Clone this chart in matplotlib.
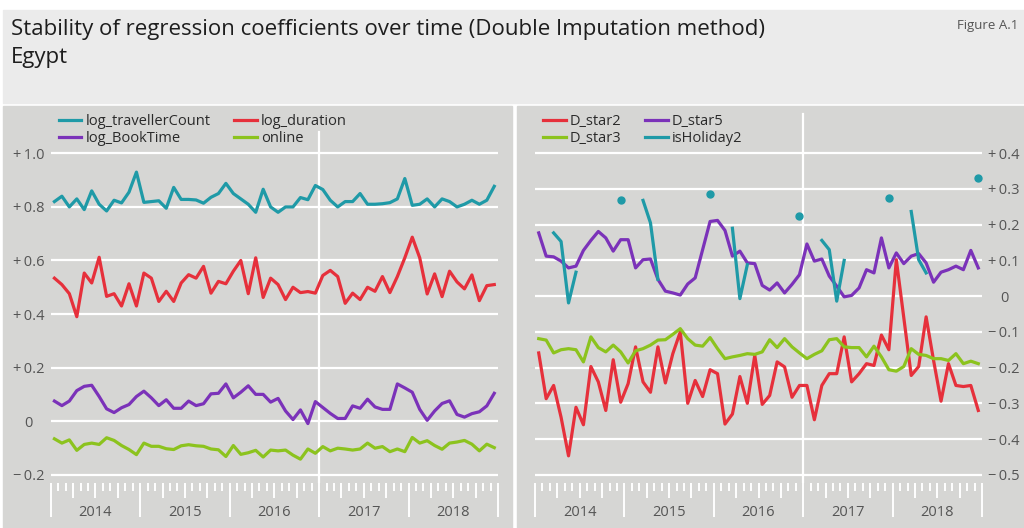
import matplotlib
matplotlib.use("Agg")
import matplotlib.pyplot as plt
import numpy as np
from matplotlib import ticker
from matplotlib.patches import Rectangle
from matplotlib.transforms import blended_transform_factory

nan = np.nan

# mesi: gen 2014 .. dic 2018 (60 punti)
anni = [2014, 2015, 2016, 2017, 2018]

# pannello sinistro
log_travellerCount = [0.82, 0.84, 0.80, 0.83, 0.79, 0.86, 0.81, 0.785, 0.825, 0.815,
                      0.855, 0.93, 0.817, 0.82, 0.823, 0.795, 0.873, 0.828, 0.828, 0.826,
                      0.814, 0.836, 0.85, 0.888, 0.85, 0.83, 0.81, 0.78, 0.866, 0.80,
                      0.78, 0.80, 0.80, 0.835, 0.827, 0.88, 0.865, 0.825, 0.80, 0.82,
                      0.82, 0.85, 0.81, 0.81, 0.812, 0.816, 0.83, 0.906, 0.806, 0.81,
                      0.83, 0.80, 0.83, 0.82, 0.80, 0.81, 0.825, 0.81, 0.825, 0.877]
log_duration = [0.534, 0.51, 0.476, 0.39, 0.553, 0.516, 0.612, 0.466, 0.476, 0.43,
                0.513, 0.43, 0.553, 0.534, 0.447, 0.485, 0.447, 0.516, 0.547, 0.534,
                0.578, 0.478, 0.522, 0.513, 0.56, 0.60, 0.476, 0.61, 0.462, 0.534,
                0.51, 0.454, 0.50, 0.48, 0.484, 0.478, 0.544, 0.563, 0.54, 0.44,
                0.478, 0.454, 0.50, 0.485, 0.54, 0.48, 0.54, 0.61, 0.687, 0.61,
                0.475, 0.55, 0.465, 0.56, 0.52, 0.494, 0.546, 0.45, 0.506, 0.51]
log_BookTime = [0.075, 0.058, 0.075, 0.114, 0.13, 0.134, 0.092, 0.046, 0.032, 0.05,
                0.062, 0.092, 0.112, 0.087, 0.058, 0.08, 0.048, 0.048, 0.075, 0.058,
                0.065, 0.102, 0.104, 0.139, 0.087, 0.108, 0.132, 0.10, 0.10, 0.071,
                0.085, 0.038, 0.006, 0.042, -0.009, 0.073, 0.051, 0.029, 0.01, 0.01,
                0.057, 0.048, 0.082, 0.053, 0.044, 0.044, 0.139, 0.124, 0.108, 0.044,
                0.003, 0.038, 0.066, 0.076, 0.025, 0.015, 0.028, 0.035, 0.057, 0.104]
online = [-0.066, -0.082, -0.07, -0.109, -0.087, -0.082, -0.087, -0.062, -0.072, -0.091,
          -0.106, -0.125, -0.082, -0.094, -0.094, -0.103, -0.106, -0.092, -0.088, -0.092,
          -0.094, -0.104, -0.107, -0.132, -0.091, -0.124, -0.118, -0.109, -0.134, -0.108,
          -0.111, -0.108, -0.127, -0.142, -0.104, -0.120, -0.095, -0.111, -0.101, -0.104,
          -0.108, -0.104, -0.082, -0.101, -0.095, -0.114, -0.104, -0.114, -0.061, -0.082,
          -0.073, -0.091, -0.105, -0.082, -0.078, -0.072, -0.086, -0.111, -0.086, -0.099]

# pannello destro
D_star2 = [-0.159, -0.287, -0.25, -0.339, -0.447, -0.311, -0.36, -0.197, -0.24, -0.32,
           -0.178, -0.297, -0.245, -0.142, -0.24, -0.269, -0.142, -0.243, -0.161, -0.10,
           -0.30, -0.236, -0.281, -0.206, -0.217, -0.358, -0.33, -0.225, -0.30, -0.166,
           -0.303, -0.278, -0.184, -0.198, -0.283, -0.25, -0.25, -0.346, -0.25, -0.217,
           -0.217, -0.114, -0.24, -0.217, -0.189, -0.194, -0.109, -0.15, 0.102, -0.06,
           -0.222, -0.197, -0.058, -0.18, -0.294, -0.189, -0.25, -0.253, -0.25, -0.32]
D_star3 = [-0.119, -0.123, -0.159, -0.15, -0.147, -0.15, -0.184, -0.114, -0.144, -0.156,
           -0.137, -0.156, -0.187, -0.153, -0.147, -0.137, -0.123, -0.122, -0.107, -0.091,
           -0.119, -0.137, -0.14, -0.116, -0.147, -0.175, -0.17, -0.166, -0.161, -0.163,
           -0.156, -0.122, -0.144, -0.119, -0.142, -0.159, -0.175, -0.163, -0.153, -0.122,
           -0.119, -0.142, -0.144, -0.144, -0.17, -0.14, -0.17, -0.206, -0.21, -0.197,
           -0.147, -0.163, -0.166, -0.175, -0.175, -0.18, -0.161, -0.189, -0.182, -0.189]
D_star5 = [0.177, 0.112, 0.11, 0.098, 0.079, 0.084, 0.128, 0.156, 0.181, 0.163,
           0.126, 0.158, 0.158, 0.079, 0.102, 0.104, 0.047, 0.014, 0.009, 0.003,
           0.034, 0.051, 0.13, 0.209, 0.212, 0.184, 0.112, 0.126, 0.093, 0.091,
           0.03, 0.017, 0.037, 0.009, 0.033, 0.06, 0.146, 0.098, 0.104, 0.056,
           0.028, -0.002, 0.002, 0.023, 0.074, 0.065, 0.163, 0.079, 0.121, 0.091,
           0.112, 0.119, 0.093, 0.039, 0.067, 0.074, 0.084, 0.074, 0.128, 0.079]
isHoliday2 = [nan, nan, 0.177, 0.153, -0.019, 0.067, nan, nan, nan, nan,
              nan, 0.27, nan, nan, 0.268, 0.205, 0.047, nan, nan, nan,
              nan, nan, nan, 0.286, nan, nan, 0.19, -0.007, 0.088, nan,
              nan, nan, nan, nan, nan, 0.225, nan, nan, 0.156, 0.13,
              -0.014, 0.10, nan, nan, nan, nan, nan, 0.274, nan, nan,
              0.237, 0.102, 0.065, nan, nan, nan, nan, nan, nan, 0.33]

tick_sx = [-0.2, 0.0, 0.2, 0.4, 0.6, 0.8, 1.0]
tick_dx = [-0.5, -0.4, -0.3, -0.2, -0.1, 0.0, 0.1, 0.2, 0.3, 0.4]

# colori
TEAL = '#1f9aa7'
ROSSO = '#e6303b'
VIOLA = '#7b32b9'
VERDE = '#8cc31e'
SFONDO = '#d6d6d4'
TESTATA = '#ebebeb'
GRIGIO_TESTO = '#555555'

FONT = ['Open Sans', 'DejaVu Sans']
plt.rcParams['font.family'] = FONT

W, H = 1024, 528


def formatta_valore(v, pos=None):
    if abs(v) < 1e-9:
        return '0'
    segno = '+' if v > 0 else '\u2212'
    return segno + '\u2009' + f'{abs(v):.1f}'


def prepara_assi(ax, yticks, ylim, lato):
    n = len(log_duration)
    ax.set_facecolor('none')
    for s in ax.spines.values():
        s.set_visible(False)
    ax.set_xlim(0, n)
    ax.set_ylim(*ylim)

    # griglia orizzontale bianca
    ax.set_yticks(yticks)
    ax.yaxis.set_major_formatter(ticker.FuncFormatter(formatta_valore))
    ax.yaxis.grid(True, color='white', linewidth=1.6, zorder=1)
    ax.set_axisbelow(True)
    if lato == 'right':
        ax.yaxis.tick_right()
    ax.tick_params(axis='y', length=0, pad=16, labelsize=10.5, labelcolor=GRIGIO_TESTO)
    for lab in ax.get_yticklabels():
        lab.set_horizontalalignment('center')

    # tacche: anni lunghi, mesi corti, trimestri medi
    ax.set_xticks(np.arange(0, n + 1, 12))
    ax.set_xticks(np.arange(0, n + 1, 1), minor=True)
    ax.tick_params(axis='x', which='major', length=24.5, width=1.4, color='white',
                   labelbottom=False, direction='out')
    ax.tick_params(axis='x', which='minor', length=5.8, width=1.4, color='white',
                   direction='out')
    trans = blended_transform_factory(ax.transData, ax.transAxes)
    trimestri = [m for m in range(3, n, 3) if m % 12 != 0]
    ax.vlines(trimestri, 0, -15 / 373, transform=trans, colors='white',
              linewidth=1.4, clip_on=False)
    for k, anno in enumerate(anni):
        ax.text(12 * k + 6, -29 / 373, str(anno), transform=trans, ha='center',
                va='center', fontsize=10.5, color=GRIGIO_TESTO)


def main():
    fig = plt.figure(figsize=(W / 100, H / 100), dpi=100)

    # testata e pannelli di sfondo
    fig.add_artist(Rectangle((3 / W, 1 - 103 / H), 1 - 3 / W, 93 / H, transform=fig.transFigure,
                             color=TESTATA, zorder=0))
    fig.add_artist(Rectangle((3 / W, 0), 509 / W, 1 - 106 / H, transform=fig.transFigure,
                             color=SFONDO, zorder=0))
    fig.add_artist(Rectangle((517 / W, 0), 507 / W, 1 - 106 / H, transform=fig.transFigure,
                             color=SFONDO, zorder=0))

    fig.text(11 / W, 1 - 30 / H, 'Stability of regression coefficients over time (Double Imputation method)',
             fontsize=16, color='#1e1e1e', va='center')
    fig.text(11 / W, 1 - 58 / H, 'Egypt', fontsize=16, color='#1e1e1e', va='center')
    fig.text(1018 / W, 1 - 25 / H, 'Figure A.1', fontsize=9.5, color='#555555', va='center', ha='right')

    x = np.arange(len(log_duration)) + 0.5
    lw = 2.3

    # pannello sinistro
    ax1 = fig.add_axes([50.7 / W, 1 - 483 / H, 447.3 / W, 373 / H])
    prepara_assi(ax1, tick_sx, (-0.231, 1.162), 'left')
    ax1.axvline(36, ymax=0.94, color='white', linewidth=1.6, zorder=1)
    l1, = ax1.plot(x, log_travellerCount, color=TEAL, lw=lw, zorder=3)
    l2, = ax1.plot(x, log_BookTime, color=VIOLA, lw=lw, zorder=3)
    l3, = ax1.plot(x, log_duration, color=ROSSO, lw=lw, zorder=3)
    l4, = ax1.plot(x, online, color=VERDE, lw=lw, zorder=3)
    ax1.legend([l1, l2, l3, l4], ['log_travellerCount', 'log_BookTime', 'log_duration', 'online'],
               ncol=2, loc='upper left', bbox_to_anchor=(0.018, 0.99), frameon=False,
               fontsize=10.5, handlelength=1.55, handletextpad=0.3, columnspacing=1.6,
               labelspacing=0.15, borderpad=0, borderaxespad=0, labelcolor='#2a2a2a')

    # pannello destro
    ax2 = fig.add_axes([535 / W, 1 - 483 / H, 447 / W, 373 / H])
    prepara_assi(ax2, tick_dx, (-0.523, 0.521), 'right')
    ax2.axvline(36, ymax=0.99, color='white', linewidth=1.6, zorder=1)
    r1, = ax2.plot(x, D_star2, color=ROSSO, lw=lw, zorder=3)
    r2, = ax2.plot(x, D_star3, color=VERDE, lw=lw, zorder=3)
    r3, = ax2.plot(x, D_star5, color=VIOLA, lw=lw, zorder=3)
    r4, = ax2.plot(x, isHoliday2, color=TEAL, lw=lw, zorder=3)
    # punti isolati (senza vicini) come pallini
    h = np.array(isHoliday2)
    prima = np.concatenate([[nan], h[:-1]])
    dopo = np.concatenate([h[1:], [nan]])
    isolati = ~np.isnan(h) & np.isnan(prima) & np.isnan(dopo)
    ax2.plot(x[isolati], h[isolati], 'o', color=TEAL, markersize=5, zorder=3)
    ax2.legend([r1, r2, r3, r4], ['D_star2', 'D_star3', 'D_star5', 'isHoliday2'],
               ncol=2, loc='upper left', bbox_to_anchor=(0.018, 0.99), frameon=False,
               fontsize=10.5, handlelength=1.55, handletextpad=0.3, columnspacing=1.6,
               labelspacing=0.15, borderpad=0, borderaxespad=0, labelcolor='#2a2a2a')

    fig.savefig('out.png', dpi=100)


if __name__ == "__main__":
    main()
